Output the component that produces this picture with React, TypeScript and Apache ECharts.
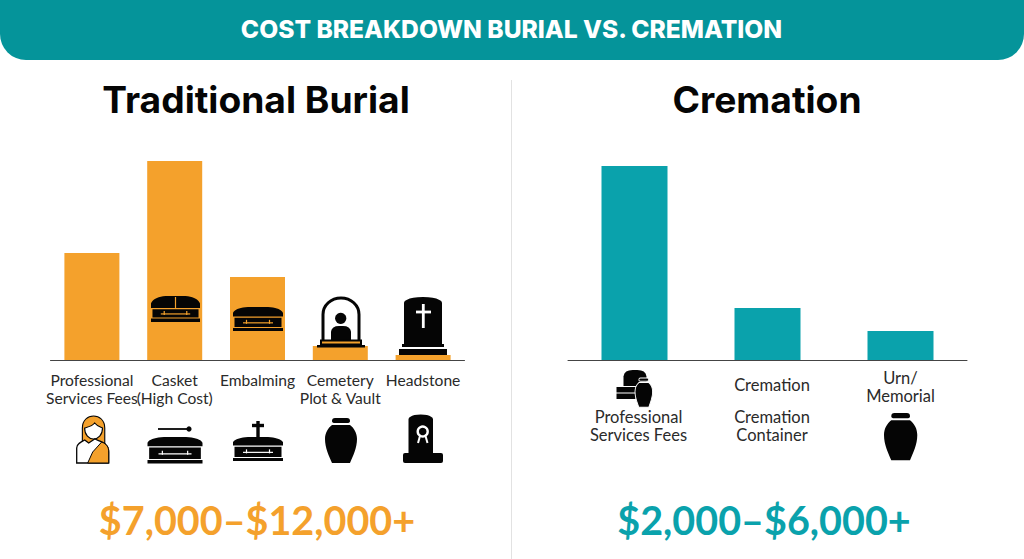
import React, { useEffect, useRef } from "react";
import * as echarts from "echarts";

const chartTitle = "COST BREAKDOWN BURIAL VS. CREMATION";
const burialTitle = "Traditional Burial";
const cremationTitle = "Cremation";
const burialPrice = "$7,000–$12,000+";
const cremationPrice = "$2,000–$6,000+";

const burialCategories = ["Professional\nServices Fees", "Casket\n(High Cost)", "Embalming", "Cemetery\nPlot & Vault", "Headstone"];
const burialValues = [107, 199, 83, 14, 5];

const cremationCategories = ["Professional Services Fees", "Cremation Container", "Urn/Memorial"];
const cremationValues = [194, 52, 29];
const cremationLabels = [
  "{g1| }\n{a|Professional}\n{a|Services Fees}",
  "{g2| }\n{b|Cremation}\n{g3| }\n{b|Cremation}\n{b|Container}",
  "{t|Urn/}\n{t|Memorial}",
];

const ORANGE = "#F4A12C";
const TEAL = "#0AA2AC";
const HEADER = "#05949A";
const BLACK = "#050505";

echarts.graphic.registerShape("lid", echarts.graphic.extendPath("M0 100 V62 C2 38 8 18 20 6 Q24 0 30 0 H70 Q76 0 80 6 C92 18 98 38 100 62 V100 Z", {}));
echarts.graphic.registerShape("urn", echarts.graphic.extendPath("M10 0 H22 Q25 0 25 3 Q25 5 22 5 H10 Q7 5 7 3 Q7 0 10 0 Z M7 7 H25 C29 10 32 15 32 21 C32 30 28 38 25 45 H7 C4 38 0 30 0 21 C0 15 3 10 7 7 Z", {}));
echarts.graphic.registerShape("stone", echarts.graphic.extendPath("M0 100 V12 Q0 8 8 6 Q20 0 50 0 Q80 0 92 6 Q100 8 100 12 V100 Z", {}));
echarts.graphic.registerShape("arch", echarts.graphic.extendPath("M0 46 V18 C0 8 8 0 18 0 C28 0 36 8 36 18 V46", {}));
echarts.graphic.registerShape("hair", echarts.graphic.extendPath("M3 30 V12 C3 4 8 0 13 0 C18 0 23 4 23 12 V30 Z", {}));
echarts.graphic.registerShape("face", echarts.graphic.extendPath("M5 10 C8 9 12 8 14 5 C16 8 19 9 21 10 C21 17 17 21 13 21 C9 21 5 17 5 10 Z", {}));
echarts.graphic.registerShape("torso", echarts.graphic.extendPath("M1 47 V32 C1 28 5 26 9 24 L13 27 L19 23 C26 26 33 27 33 36 V47 Z", {}));
echarts.graphic.registerShape("sash", echarts.graphic.extendPath("M12 47 L17 36 L26 26 C31 28 33 31 33 36 V47 Z", {}));
echarts.graphic.registerShape("dome", echarts.graphic.extendPath("M0 100 V40 Q4 0 40 0 H60 Q96 0 100 40 V100 Z", {}));

const Z = 10;
const rect = (x: number, y: number, w: number, h: number, fill = BLACK, r: any = 0) => ({
  type: "rect", z: Z, silent: true, shape: { x, y, width: w, height: h, r }, style: { fill },
});
const line = (x1: number, y1: number, x2: number, y2: number, stroke: string, lineWidth = 1.2) => ({
  type: "line", z: Z, silent: true, shape: { x1, y1, x2, y2 }, style: { stroke, lineWidth },
});
const shape = (type: string, x: number, y: number, sx: number, sy: number, style: any) => ({
  type, z: Z, silent: true, x, y, scaleX: sx, scaleY: sy, style,
});

function casket(x: number, y: number, w: number, h: number, lidFrac: number, accent: string, divider = false) {
  const bodyTop = y + h * (lidFrac + 0.05);
  const baseTop = y + h * 0.87;
  const mid = (bodyTop + baseTop) / 2;
  const els: any[] = [
    shape("lid", x, y, w / 100, (h * lidFrac) / 100, { fill: BLACK }),
    rect(x + w * 0.03, bodyTop, w * 0.94, baseTop - bodyTop - 1, BLACK),
    rect(x, baseTop, w, h * 0.13, BLACK),
    line(x + w * 0.2, mid, x + w * 0.8, mid, accent),
    line(x + w * 0.27, mid - 3, x + w * 0.27, mid + 1, accent),
    line(x + w * 0.73, mid - 3, x + w * 0.73, mid + 1, accent),
  ];
  if (divider) els.push(line(x + w / 2, y + 1, x + w / 2, y + h * lidFrac, accent));
  return els;
}

const icons: any[] = [
  // on the burial bars
  ...casket(151, 296, 49, 26, 0.46, ORANGE, true),
  ...casket(233, 307, 50, 24, 0.4, ORANGE),
  // cemetery dome
  shape("arch", 323, 298, 1, 0.92, { fill: "none", stroke: BLACK, lineWidth: 3 }),
  { type: "circle", z: Z, silent: true, shape: { cx: 340.7, cy: 318.3, r: 5.6 }, style: { fill: BLACK } },
  shape("dome", 331, 326, 0.2, 0.14, { fill: BLACK }),
  rect(320, 339.5, 42, 6, BLACK),
  rect(322, 341.5, 38, 2, ORANGE),
  rect(317, 345, 48, 2.5, BLACK),
  // headstone
  shape("stone", 404, 297, 0.38, 0.47, { fill: BLACK }),
  line(423.3, 304, 423.3, 328, "#fff", 2.8),
  line(416, 312, 431, 312, "#fff", 2.8),
  rect(402, 344, 42, 3, BLACK),
  rect(399, 349, 48, 6, BLACK),
  // person
  shape("hair", 79, 416, 1.12, 1, { fill: ORANGE, stroke: BLACK, lineWidth: 1 }),
  shape("face", 79, 418, 1.12, 1, { fill: "#fff", stroke: BLACK, lineWidth: 1 }),
  shape("torso", 75.7, 416, 1, 1, { fill: "#fff", stroke: BLACK, lineWidth: 1.3 }),
  shape("sash", 75.7, 416, 1, 1, { fill: ORANGE, stroke: BLACK, lineWidth: 1 }),
  // casket with a stick
  line(158, 429, 190, 429, BLACK, 1.8),
  { type: "circle", z: Z, silent: true, shape: { cx: 189, cy: 429, r: 2.6 }, style: { fill: BLACK } },
  ...casket(147.5, 437, 55, 26.5, 0.35, "#fff"),
  // casket with a cross
  line(258, 421, 258, 441, BLACK, 3.4),
  line(252, 425.5, 264, 425.5, BLACK, 3.4),
  ...casket(233, 437, 50, 24, 0.36, "#fff"),
  // urn
  shape("urn", 325, 418, 1, 1, { fill: BLACK }),
  // headstone with badge
  shape("stone", 408.5, 414.5, 0.245, 0.39, { fill: BLACK }),
  rect(403, 453, 40, 10, BLACK, 2),
  { type: "circle", z: Z, silent: true, shape: { cx: 422.7, cy: 431.5, r: 5 }, style: { fill: "none", stroke: "#fff", lineWidth: 2.4 } },
  line(420, 436, 418, 443, "#fff", 2),
  line(425.5, 436, 427.5, 443, "#fff", 2),
  // cremation services
  shape("dome", 623.5, 370, 0.23, 0.16, { fill: BLACK }),
  rect(616.5, 387, 19, 5.5, BLACK),
  rect(616.5, 393.5, 19, 5.5, BLACK),
  shape("urn", 635, 378, 0.55, 0.65, { fill: BLACK, stroke: "#fff", lineWidth: 1.6 }),
  // urn
  shape("urn", 884, 413, 1.04, 1.05, { fill: BLACK }),
];

export default function App() {
  const ref = useRef<HTMLDivElement>(null);
  useEffect(() => {
    if (!ref.current) return;
    const chart = echarts.init(ref.current, undefined, { renderer: "svg" });
    const leftText = { fontFamily: "Lato", fontSize: 15.6, color: "#2A2A2A", lineHeight: 18 };
    const rightText = { fontFamily: "Lato", fontSize: 16.5, color: "#2A2A2A", lineHeight: 18 };
    const titleAt = (text: string, left: number, top: number, fontSize: number, color: string, fontFamily: string, fontWeight: any) => ({
      text, left, top, textAlign: "center", textVerticalAlign: "middle", padding: 0,
      textStyle: { fontFamily, fontSize, color, fontWeight },
    });
    chart.setOption({
      animation: false,
      backgroundColor: "#fff",
      title: [
        titleAt(chartTitle, 511.5, 29, 24.6, "#fff", "Inter", 800),
        titleAt(burialTitle, 256, 99.5, 37.2, BLACK, "Inter", 700),
        titleAt(cremationTitle, 767, 99.5, 37.2, BLACK, "Inter", 700),
        titleAt(burialPrice, 257, 519, 39.5, ORANGE, "Lato", 700),
        titleAt(cremationPrice, 764, 519, 39.5, TEAL, "Lato", 700),
      ],
      grid: [
        { left: 50.5, top: 160, width: 414, height: 200 },
        { left: 568, top: 160, width: 399, height: 200 },
      ],
      xAxis: [
        {
          type: "category", gridIndex: 0, data: burialCategories,
          axisTick: { show: false },
          axisLine: { lineStyle: { color: "#444", width: 1 } },
          axisLabel: { ...leftText, interval: 0, margin: 11, hideOverlap: false, verticalAlign: "top" },
        },
        {
          type: "category", gridIndex: 1, data: cremationCategories,
          axisTick: { show: false },
          axisLine: { lineStyle: { color: "#444", width: 1 } },
          axisLabel: {
            interval: 0, margin: 9, hideOverlap: false, verticalAlign: "top",
            formatter: (_v: string, i: number) => cremationLabels[i],
            rich: {
              t: rightText,
              a: { ...rightText, padding: [0, 0, 0, 8] },
              b: { ...rightText, padding: [0, 0, 0, 9] },
              g1: { lineHeight: 39, fontSize: 10 },
              g2: { lineHeight: 7, fontSize: 5 },
              g3: { lineHeight: 14, fontSize: 10 },
            },
          },
        },
      ],
      yAxis: [
        { type: "value", gridIndex: 0, min: 0, max: 200, show: false },
        { type: "value", gridIndex: 1, min: 0, max: 200, show: false },
      ],
      series: [
        { type: "bar", xAxisIndex: 0, yAxisIndex: 0, data: burialValues, barWidth: 55, itemStyle: { color: ORANGE } },
        { type: "bar", xAxisIndex: 1, yAxisIndex: 1, data: cremationValues, barWidth: 66, itemStyle: { color: TEAL } },
      ],
      graphic: [
        { type: "rect", z: 0, silent: true, shape: { x: 0, y: -30, width: 1024, height: 90, r: 26 }, style: { fill: HEADER } },
        line(511.5, 80, 511.5, 559, "#E2E2E2", 1),
        ...icons,
      ],
    });
    return () => chart.dispose();
  }, []);
  return <div ref={ref} style={{ position: "fixed", left: 0, top: 0, width: 1024, height: 559 }} />;
}
